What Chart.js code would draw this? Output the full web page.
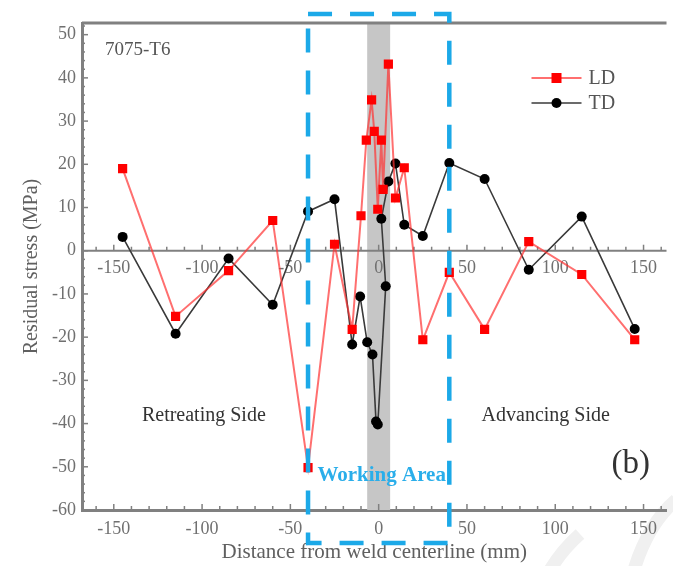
<!DOCTYPE html>
<html>
<head>
<meta charset="utf-8">
<script src="https://cdn.jsdelivr.net/npm/chart.js@4.4.1/dist/chart.umd.min.js"></script>
<style>
html, body { margin: 0; padding: 0; background: #fff; overflow: hidden; }
#caja { width: 673px; height: 566px; }
</style>
</head>
<body>
<div id="caja"><canvas id="miGrafico" width="673" height="566"></canvas></div>
<script>

// posiciones (mm) y tensiones (MPa) - direccion longitudinal
let ldX = [-145, -115, -85, -60, -40, -25, -15, -10, -7, -4, -2.5, -0.5, 1.5, 2.5, 5.5, 9.5, 14.5, 25, 40, 60, 85, 115, 145];
let ldY = [19, -15.2, -4.6, 7, -50.2, 1.5, -18.2, 8.1, 25.6, 34.9, 27.6, 9.6, 25.6, 14.2, 43.2, 12.2, 19.2, -20.6, -5, -18.2, 2.1, -5.5, -20.6];

// direccion transversal
let tdX = [-145, -115, -85, -60, -40, -25, -15, -10.5, -6.5, -3.5, -1.5, -0.5, 4, 1.5, 5.5, 9.5, 14.5, 25, 40, 60, 85, 115, 145];
let tdY = [3.2, -19.2, -1.8, -12.5, 9.1, 11.9, -21.7, -10.6, -21.2, -24, -39.5, -40.2, -8.2, 7.4, 16, 20.2, 6, 3.4, 20.3, 16.6, -4.4, 7.9, -18.1];

let xTicks = [-150, -100, -50, 0, 50, 100, 150];
let yTicks = [-60, -50, -40, -30, -20, -10, 0, 10, 20, 30, 40, 50];

// franja de la soldadura y zona de trabajo (mm)
let franja = [-6.5, 6.5];
let zonaTrabajo = [-40, 40];

const SERIF = "'Liberation Serif', 'Times New Roman', serif";
const GRIS = '#808080';
const AZUL = '#1ca9e8';

function puntos(xs, ys){
  return xs.map((x, i) => ({ x: x, y: ys[i] }));
}

function linea(ctx, x1, y1, x2, y2){
  ctx.beginPath();
  ctx.moveTo(x1, y1);
  ctx.lineTo(x2, y2);
  ctx.stroke();
}

const extras = {
  id: 'extras',

  beforeDraw(chart){
    const ctx = chart.ctx;
    ctx.save();
    // trazos claros de fondo abajo a la derecha
    ctx.strokeStyle = '#f0f0f0';
    ctx.lineWidth = 13;
    ctx.beginPath();
    ctx.moveTo(580, 534);
    ctx.quadraticCurveTo(562, 550, 550, 570);
    ctx.stroke();
    ctx.beginPath();
    ctx.moveTo(676, 500);
    ctx.quadraticCurveTo(648, 524, 634, 570);
    ctx.stroke();
    ctx.restore();
  },

  beforeDatasetsDraw(chart){
    const { ctx, chartArea: a, scales: { x, y } } = chart;
    ctx.save();

    // franja gris
    const b0 = x.getPixelForValue(franja[0]);
    const b1 = x.getPixelForValue(franja[1]);
    ctx.fillStyle = '#c6c6c6';
    ctx.fillRect(b0, a.top, b1 - b0, a.bottom - a.top);

    const y0 = y.getPixelForValue(0);
    ctx.strokeStyle = GRIS;

    // borde de arriba
    ctx.lineWidth = 3;
    linea(ctx, a.left, a.top, a.right, a.top);

    // linea del cero
    ctx.lineWidth = 2;
    linea(ctx, a.left, y0, a.right, y0);

    // marcas hacia dentro
    ctx.lineWidth = 1.5;
    for (let v = -160; v <= 160; v += 10) {
      const px = x.getPixelForValue(v);
      const l = v % 50 === 0 ? 6 : 4;
      linea(ctx, px, a.bottom, px, a.bottom - l);
      linea(ctx, px, y0, px, y0 - l);
    }
    for (let v = -60; v <= 52; v += 2) {
      const py = y.getPixelForValue(v);
      const l = v % 10 === 0 ? 6 : 3;
      linea(ctx, a.left, py, a.left + l, py);
    }

    // numeros debajo de la linea del cero
    ctx.fillStyle = '#707070';
    ctx.font = '18px ' + SERIF;
    ctx.textAlign = 'center';
    ctx.textBaseline = 'middle';
    xTicks.forEach(v => ctx.fillText(String(v), x.getPixelForValue(v), y0 + 18));

    ctx.restore();
  },

  afterDraw(chart){
    const { ctx, chartArea: a, scales: { x, y } } = chart;
    ctx.save();

    // recuadro de la zona de trabajo
    const w0 = x.getPixelForValue(zonaTrabajo[0]);
    const w1 = x.getPixelForValue(zonaTrabajo[1]);
    ctx.strokeStyle = AZUL;
    ctx.lineWidth = 4.5;
    ctx.setLineDash([24, 18]);
    ctx.beginPath();
    ctx.moveTo(w0, 14);
    ctx.lineTo(w1, 14);
    ctx.lineTo(w1, 543);
    ctx.lineTo(w0, 543);
    ctx.closePath();
    ctx.stroke();
    ctx.setLineDash([]);

    // textos
    ctx.textBaseline = 'middle';
    ctx.fillStyle = '#555';
    ctx.font = '19px ' + SERIF;
    ctx.textAlign = 'left';
    ctx.fillText('7075-T6', x.getPixelForValue(-155), y.getPixelForValue(46.5));

    ctx.fillStyle = '#333';
    ctx.font = '20px ' + SERIF;
    ctx.textAlign = 'center';
    ctx.fillText('Retreating Side', x.getPixelForValue(-99), y.getPixelForValue(-38.2));
    ctx.fillText('Advancing Side', x.getPixelForValue(94.6), y.getPixelForValue(-38.2));

    ctx.font = '33px ' + SERIF;
    ctx.fillText('(b)', x.getPixelForValue(142.7), y.getPixelForValue(-49.5));

    ctx.fillStyle = '#2aaeea';
    ctx.font = 'bold 21px ' + SERIF;
    ctx.textAlign = 'left';
    ctx.fillText('Working Area', x.getPixelForValue(-34.7), y.getPixelForValue(-52));

    // leyenda
    chart.data.datasets.forEach((ds, i) => {
      const ly = 78 + i * 25;
      const lx = a.right - 135;
      ctx.strokeStyle = ds.borderColor;
      ctx.lineWidth = ds.borderWidth;
      linea(ctx, lx, ly, lx + 50, ly);
      ctx.fillStyle = ds.pointBackgroundColor;
      if (ds.pointStyle === 'rect') {
        ctx.fillRect(lx + 20, ly - 5, 10, 10);
      } else {
        ctx.beginPath();
        ctx.arc(lx + 25, ly, 5, 0, Math.PI * 2);
        ctx.fill();
      }
      ctx.fillStyle = '#555';
      ctx.font = '20px ' + SERIF;
      ctx.textAlign = 'left';
      ctx.fillText(ds.label, lx + 57, ly + 1);
    });

    ctx.restore();
  }
};

let ctx = document.getElementById('miGrafico').getContext('2d');

let grafico = new Chart(ctx, {

type: 'scatter',

data: {
  datasets: [
    {
      label: 'LD',
      data: puntos(ldX, ldY),
      showLine: true,
      borderColor: 'rgba(255,50,50,0.7)',
      borderWidth: 2,
      pointStyle: 'rect',
      pointRadius: 6.5,
      pointBackgroundColor: '#ff0000',
      pointBorderColor: '#ff0000',
      pointBorderWidth: 0
    },
    {
      label: 'TD',
      data: puntos(tdX, tdY),
      showLine: true,
      borderColor: '#3a3a3a',
      borderWidth: 1.6,
      pointStyle: 'circle',
      pointRadius: 5,
      pointBackgroundColor: '#000000',
      pointBorderColor: '#000000',
      pointBorderWidth: 0
    }
  ]
},

options: {
  responsive: false,
  animation: false,
  events: [],
  layout: { padding: { top: 23, right: 0, bottom: 0, left: 0 } },
  plugins: {
    legend: { display: false },
    tooltip: { enabled: false }
  },
  scales: {
    x: {
      type: 'linear',
      position: 'bottom',
      min: -168,
      max: 163,
      afterFit: s => { s.height = 56; },
      afterBuildTicks: s => { s.ticks = xTicks.map(v => ({ value: v })); },
      grid: { display: false, drawTicks: false },
      border: { display: true, color: GRIS, width: 3 },
      ticks: {
        color: '#707070',
        font: { family: SERIF, size: 18 },
        padding: 8,
        maxRotation: 0,
        autoSkip: false,
        callback: v => String(v)
      },
      title: {
        display: true,
        text: 'Distance from weld centerline (mm)',
        color: '#606060',
        font: { family: SERIF, size: 21 },
        padding: { top: 0, bottom: 1 }
      }
    },
    y: {
      type: 'linear',
      min: -60,
      max: 52.7,
      afterFit: s => { s.width = 82; },
      afterBuildTicks: s => { s.ticks = yTicks.map(v => ({ value: v })); },
      grid: { display: false, drawTicks: false },
      border: { display: true, color: GRIS, width: 3 },
      ticks: {
        color: '#707070',
        font: { family: SERIF, size: 18 },
        padding: 6,
        callback: v => String(v)
      },
      title: {
        display: true,
        text: 'Residual stress (MPa)',
        color: '#606060',
        font: { family: SERIF, size: 20 },
        padding: { top: 20, bottom: 0 }
      }
    }
  }
},

plugins: [extras]

});

</script>
</body>
</html>
